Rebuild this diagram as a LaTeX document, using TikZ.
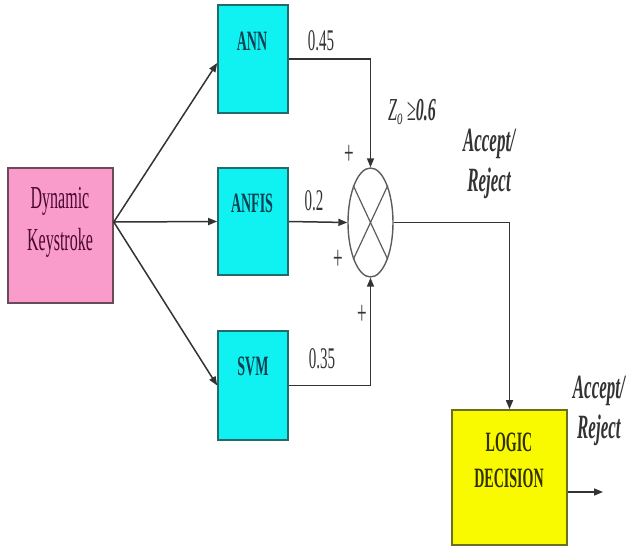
\documentclass[tikz,border=0pt]{standalone}
\usepackage{fontspec}
\setmainfont{Liberation Serif}[FakeStretch=0.5]
\usetikzlibrary{arrows.meta,calc,shapes.geometric}
\definecolor{rose}{HTML}{F99BCB}
\definecolor{roseedge}{HTML}{6B4A5A}
\definecolor{rosetext}{HTML}{4A0830}
\definecolor{aqua}{HTML}{10F2F2}
\definecolor{aquaedge}{HTML}{256A6A}
\definecolor{aquatext}{HTML}{0A4050}
\definecolor{lemon}{HTML}{F9F900}
\definecolor{lemonedge}{HTML}{6E6E20}
\definecolor{lemontext}{HTML}{303000}
\definecolor{wirec}{HTML}{333333}
\tikzset{>={Triangle[length=9pt,width=7pt]},blk/.style={line width=1.6pt,inner sep=0pt},model/.style={blk,draw=aquaedge,fill=aqua,minimum width=70pt},modeltxt/.style={font=\fontsize{28}{30}\selectfont\bfseries,text=aquatext},wire/.style={->,line width=1.5pt,draw=wirec},weight/.style={font=\fontsize{30}{30}\selectfont,text=wirec},sign/.style={font=\fontsize{34}{34}\selectfont,text=wirec},decide/.style={font=\fontsize{34}{40}\selectfont\bfseries\itshape,text=wirec,align=center}}

\begin{document}
\begin{tikzpicture}[x=1pt,y=-1pt]
\useasboundingbox (0,0) rectangle (626,547);
% blocks
\node[blk,draw=roseedge,fill=rose,minimum width=105pt,minimum height=135pt] (dk) at (60.5,235.5) {};
\node[model,minimum height=108pt] (ann) at (253,59) {};
\node[model,minimum height=107pt] (anfis) at (253,221.5) {};
\node[model,minimum height=109pt] (svm) at (253,385.5) {};
\node[ellipse,draw=wirec!80,line width=1.4pt,minimum width=45pt,minimum height=109pt,inner sep=0pt] (sum) at (370.5,222.5) {};
\draw[wirec!80,line width=1.2pt] (sum.65)--(sum.-115) (sum.115)--(sum.-65);
\node[blk,draw=lemonedge,fill=lemon,minimum width=115pt,minimum height=135pt] (logic) at (509.5,477.5) {};
% texts in blocks
\node[font=\fontsize{32}{42}\selectfont,text=rosetext,align=center] (dkt) at (60,222) {Dynamic\\Keystroke};
\node[modeltxt] (annt) at (252,41) {ANN};
\node[modeltxt] (anfist) at (252,203) {ANFIS};
\node[modeltxt] (svmt) at (253,366) {SVM};
\node[font=\fontsize{28}{36}\selectfont\bfseries,text=lemontext,align=center] (logict) at (509,460) {LOGIC\\DECISION};
% connectors
\coordinate (fan) at ($(dk.east)+(0,-13.5)$);
\draw[wire] (fan)--($(ann.west)+(0,4)$);
\draw[wire] (fan)--(anfis.west);
\draw[wire] (fan)--(svm.west);
\draw[wire] (ann.east)-|(sum.north);
\draw[wire] (anfis.east)--(sum.west);
\draw[wire] (svm.east)-|(sum.south);
\draw[wire] (sum.east)-|(logic.north);
\coordinate (out) at (603,492);
\draw[wire] ($(logic.east)+(0,14.5)$)--(out);
% labels
\node[weight] (wann) at (321,41) {0.45};
\node[weight] (wanfis) at (314,201) {0.2};
\node[weight] (wsvm) at (322,359) {0.35};
\node[font=\fontsize{32}{32}\selectfont,text=wirec] (thr) at (412,112) {\textit{Z}\textsubscript{\textit{o}} ≥\textbf{\textit{0.6}}};
\node[sign] (pa) at (349,155) {+};
\node[sign] (pb) at (338,260) {+};
\node[sign] (pc) at (362,315) {+};
\node[decide] (acc1) at (489,164) {Accept/\\Reject};
\node[decide,anchor=east,inner sep=1pt] (acc2) at (626,411) {Accept/\\Reject};
\end{tikzpicture}
\end{document}
